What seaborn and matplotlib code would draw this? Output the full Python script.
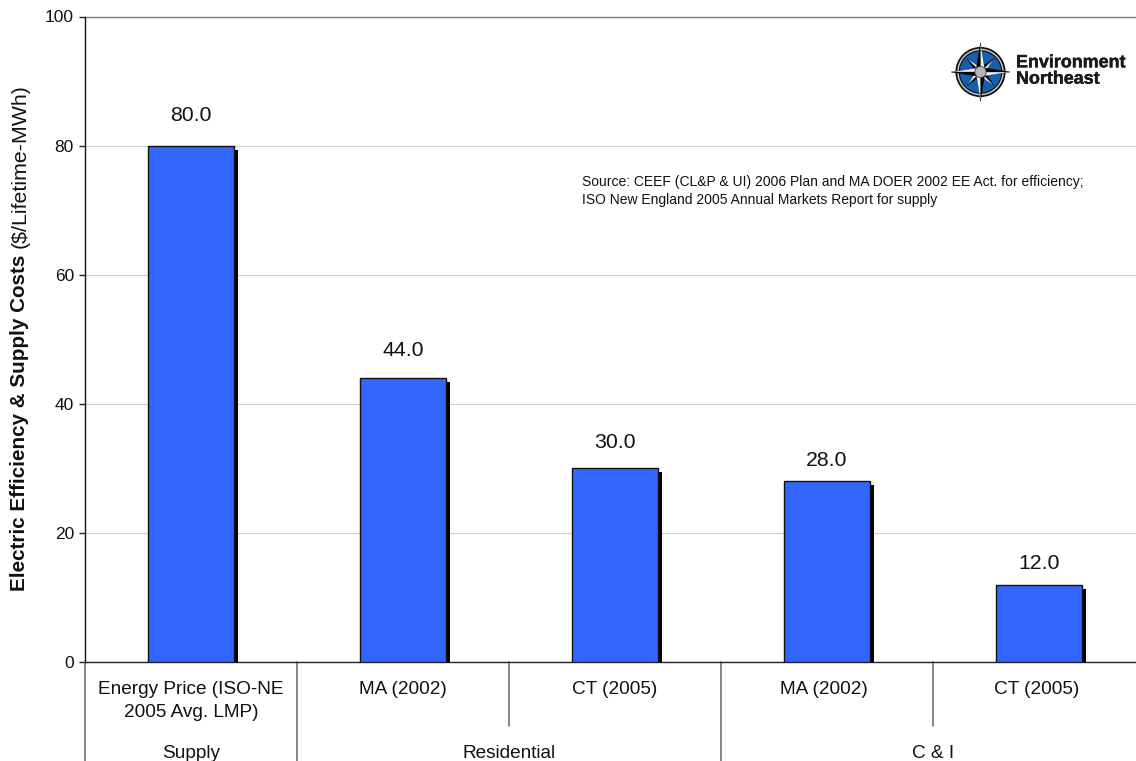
import numpy as np
import pandas as pd
import seaborn as sns
import matplotlib.pyplot as plt
import matplotlib.patheffects as pe
from matplotlib.patches import Circle, Polygon

categories = ['Energy Price (ISO-NE\n2005 Avg. LMP)', 'MA (2002)', 'CT (2005)', 'MA (2002) ', 'CT (2005) ']
values = [80.0, 44.0, 30.0, 28.0, 12.0]
groups = ['Supply', 'Residential', 'C & I']
group_sizes = [1, 2, 2]
label_gap = [21.5, 20, 18.8, 14.8, 14.8]
source_text = ('Source: CEEF (CL&P & UI) 2006 Plan and MA DOER 2002 EE Act. for efficiency;\n'
               'ISO New England 2005 Annual Markets Report for supply')

W, H = 1136, 761
sns.set_theme(style='white')
plt.rcParams['font.family'] = ['Liberation Sans', 'DejaVu Sans']

df = pd.DataFrame({'cat': categories, 'val': values})

fig = plt.figure(figsize=(W / 100, H / 100), dpi=100)
ax = fig.add_axes([85 / W, 1 - 662 / H, 1060 / W, (662 - 16.5) / H])

sns.barplot(data=df, x='cat', y='val', ax=ax, color='#3366FF', saturation=1, width=0.406,
            edgecolor='#111111', linewidth=1.0, zorder=3)
for bar in ax.patches:
    bar.set_path_effects([pe.SimplePatchShadow(offset=(2.9, -2.9), shadow_rgbFace='black', alpha=1),
                          pe.Normal()])

ax.set_xlim(-0.5, 4.5)
ax.set_ylim(0, 100)
ax.set_yticks([0, 20, 40, 60, 80, 100])
ax.set_xlabel('')
ax.set_ylabel('')
ax.yaxis.grid(True, color='#cccccc', linewidth=0.8)
ax.set_axisbelow(True)
for s in ['top', 'right']:
    ax.spines[s].set_visible(False)
ax.spines['left'].set_color('#111111')
ax.spines['bottom'].set_color('#222222')
ax.spines['left'].set_linewidth(1.0)
ax.spines['bottom'].set_linewidth(1.0)
ax.tick_params(axis='y', length=4.5, width=1, color='#222222', labelsize=12.5, labelcolor='#111111', pad=3.5, left=True)
ax.tick_params(axis='x', length=0, labelsize=13.7, labelcolor='#111111', pad=14)
for lab in ax.get_xticklabels():
    lab.set_linespacing(1.45)
ax.plot([-0.5, 4.5], [100, 100], color='#808080', lw=1.0, clip_on=False, zorder=2)

# value labels
for i, v in enumerate(values):
    ax.annotate(f'{v:.1f}', (i, v), xytext=(0, label_gap[i]), textcoords='offset points', ha='center',
                va='center', fontsize=15.3, color='#111111')

# category separators below the axis
trans = ax.get_xaxis_transform()
def axis_line(x, depth):
    ax.plot([x, x], [0, -depth / (662 - 16.5)], transform=trans, color='#666666', lw=1.1, clip_on=False)

pos = -0.5
axis_line(pos, 99)
for name, size in zip(groups, group_sizes):
    for k in range(1, size):
        axis_line(pos + k, 64)
    ax.text(pos + size / 2, -91.5 / (662 - 16.5), name, transform=trans, ha='center', va='center', fontsize=13.7, color='#111111')
    pos += size
    axis_line(pos, 99)

fig.text(582 / W, 1 - 191 / H, source_text, fontsize=10.03, va='center', ha='left',
         color='#111111', linespacing=1.4)

# y axis title, bold part then plain part
fig.text(20 / W, 1 - 591 / H, 'Electric Efficiency & Supply Costs', rotation=90, fontsize=14.9, fontweight='bold',
         ha='center', va='bottom', color='#111111')
fig.text(20 / W, 1 - 248 / H, '($/Lifetime-MWh)', rotation=90, fontsize=15.4, ha='center', va='bottom', color='#111111')

# logo
lg = fig.add_axes([951 / W, 1 - 101.5 / H, 59 / W, 59 / H])
lg.set_xlim(-1, 1)
lg.set_ylim(-1, 1)
lg.axis('off')
lg.add_patch(Circle((0, 0), 0.85, fc='#111111', ec='none'))
lg.add_patch(Circle((0, 0), 0.79, fc='#c8c8c8', ec='none'))
lg.add_patch(Circle((0, 0), 0.74, fc='#111111', ec='none'))
lg.add_patch(Circle((0, 0), 0.70, fc='#1560ae', ec='none'))
for ang in [45, 135, 225, 315]:
    a = np.deg2rad(ang)
    d = np.array([np.cos(a), np.sin(a)])
    n = np.array([-d[1], d[0]])
    lg.add_patch(Polygon([d * 0.66, n * 0.13, np.zeros(2)], fc='black', ec='black', lw=0.2))
    lg.add_patch(Polygon([d * 0.66, -n * 0.13, np.zeros(2)], fc='white', ec='black', lw=0.2))
for ang in [0, 90, 180, 270]:
    a = np.deg2rad(ang)
    d = np.array([np.cos(a), np.sin(a)])
    n = np.array([-d[1], d[0]])
    lg.add_patch(Polygon([d * 1.0, n * 0.16, np.zeros(2)], fc='black', ec='black', lw=0.2))
    lg.add_patch(Polygon([d * 1.0, -n * 0.16, np.zeros(2)], fc='#eeeeee', ec='black', lw=0.2))
lg.add_patch(Circle((0, 0), 0.19, fc='#b5b5b5', ec='#444444', lw=0.6))

t = fig.text(1016 / W, 1 - 71 / H, 'Environment\nNortheast', fontsize=12.9, fontweight='bold',
             va='center', ha='left', color='#1a1a1a', linespacing=0.95)
t.set_path_effects([pe.withStroke(linewidth=0.3, foreground='#1a1a1a')])

fig.savefig('out.png', dpi=100)
